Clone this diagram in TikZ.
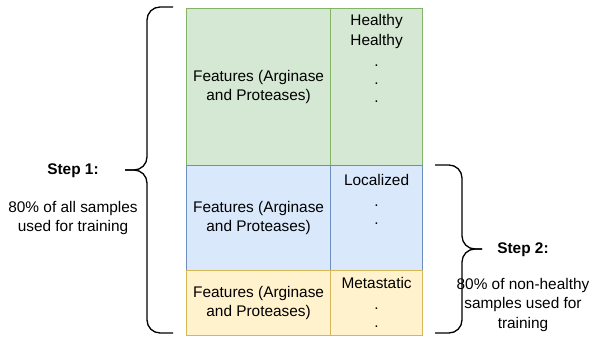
\documentclass[tikz,border=0pt]{standalone}
\usepackage{fontspec}
\setmainfont{Liberation Sans}
\usetikzlibrary{positioning}
\definecolor{healthyfill}{HTML}{D5E8D4}
\definecolor{healthyline}{HTML}{82B366}
\definecolor{localfill}{HTML}{DAE8FC}
\definecolor{localline}{HTML}{6C8EBF}
\definecolor{metafill}{HTML}{FFF2CC}
\definecolor{metaline}{HTML}{D6B656}
\tikzset
{
    featcell/.style  = {draw, line width=1.2pt, align=center, anchor=north west, minimum width=144pt, inner sep=0pt, font=\fontsize{15.4}{19.4}\selectfont},
    labelcell/.style = {draw, line width=1.2pt, anchor=north west, minimum width=92pt, inner sep=0pt},
    classtxt/.style  = {align=center, inner sep=0pt, font=\fontsize{15.4}{18}\selectfont},
    sidetxt/.style   = {align=center, inner sep=0pt, font=\fontsize{15.4}{19.4}\selectfont},
    curly/.style     = {line width=1.3pt, rounded corners=13pt}
}
\begin{document}
\begin{tikzpicture}[x=1pt,y=-1pt]
\useasboundingbox (0,0) rectangle (599,339);
% table rows
\node [featcell, fill=healthyfill, draw=healthyline, minimum height=157pt] at (186,8) (hfeat) {Features (Arginase\\and Proteases)};
\node [labelcell, fill=healthyfill, draw=healthyline, minimum height=157pt] at (330,8) (hlab) {};
\node [featcell, fill=localfill, draw=localline, minimum height=105pt] at (186,165) (lfeat) {Features (Arginase\\and Proteases)};
\node [labelcell, fill=localfill, draw=localline, minimum height=105pt] at (330,165) (llab) {};
\node [featcell, fill=metafill, draw=metaline, minimum height=65pt] at (186,270) (mfeat) {Features (Arginase\\and Proteases)};
\node [labelcell, fill=metafill, draw=metaline, minimum height=65pt] at (330,270) (mlab) {};
% class labels
\node [classtxt, below=6.5pt of hlab.north] (htxt) {Healthy\\[2pt]Healthy\\[3pt].\\.\\.};
\node [classtxt, below=9pt of llab.north] (ltxt) {Localized\\[3pt].\\.};
\node [classtxt, below=7.5pt of mlab.north] (mtxt) {Metastatic\\[3pt].\\.};
% braces
\draw [curly] (173,7) -- (147,7) -- (147,170) -- (125,170);
\draw [curly] (173,333) -- (147,333) -- (147,170) -- (125,170);
\draw [curly] (435,165) -- (462,165) -- (462,249) -- (482,249);
\draw [curly] (435,333) -- (462,333) -- (462,249) -- (482,249);
% step labels
\node [sidetxt] at (73,171) (step1) {\bfseries Step 1:};
\node [sidetxt] at (73,218) (train1) {80\% of all samples\\used for training};
\node [sidetxt] at (523,250) (step2) {\bfseries Step 2:};
\node [sidetxt] at (523,305) (train2) {80\% of non-healthy\\samples used for\\training};
\end{tikzpicture}
\end{document}
